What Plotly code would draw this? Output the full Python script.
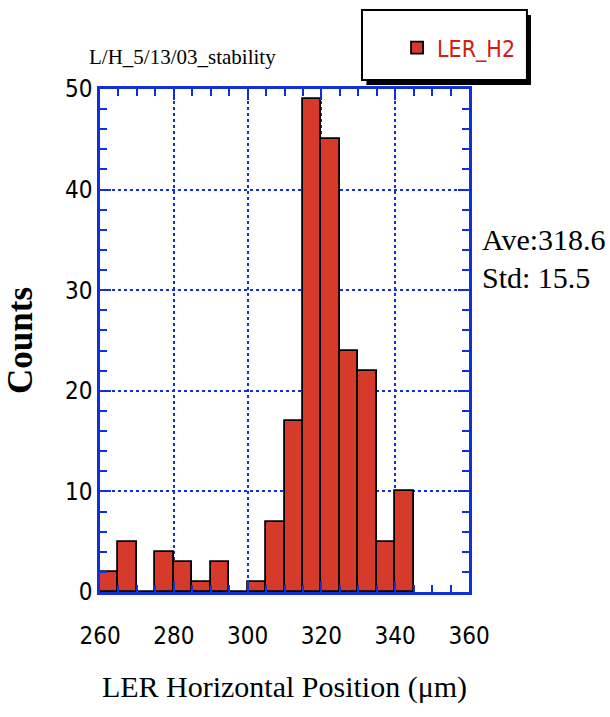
import plotly.graph_objects as go

bin_left = [260, 265, 270, 275, 280, 285, 290, 295, 300, 305, 310, 315, 320, 325, 330, 335, 340]
counts = [2, 5, 0, 4, 3, 1, 3, 0, 1, 7, 17, 49, 45, 24, 22, 5, 10]
bin_width = 5
series_name = "LER_H2"

centers = [b + bin_width / 2 for b in bin_left]

BLUE = "#1030E0"
RED = "#D63A2A"
NARROW = "DejaVu Sans Condensed, Liberation Sans Narrow, Arial Narrow, sans-serif"
SERIF = "Liberation Serif, Times New Roman, serif"

fig = go.Figure()
fig.add_trace(go.Bar(
    x=centers, y=counts, width=[bin_width] * len(centers),
    name=series_name,
    marker=dict(color=RED, line=dict(color="black", width=1.8)),
    showlegend=True,
))

axis_common = dict(
    showline=True, linecolor=BLUE, linewidth=2.5, mirror="allticks",
    ticks="inside", tickcolor=BLUE, tickwidth=2, ticklen=11,
    showgrid=True, gridcolor=BLUE, gridwidth=1.5, griddash="dot",
    zeroline=False,
    tickfont=dict(family=NARROW, size=24, color="black"),
)

fig.update_xaxes(
    range=[260, 360], dtick=20,
    minor=dict(dtick=5, ticks="inside", ticklen=7, tickcolor=BLUE, tickwidth=2, showgrid=False),
    ticklabelstandoff=20,
    title=dict(text="LER Horizontal Position (μm)", font=dict(family=SERIF, size=30, color="black"), standoff=28),
    **axis_common,
)
fig.update_yaxes(
    range=[0, 50], dtick=10,
    minor=dict(dtick=2, ticks="inside", ticklen=7, tickcolor=BLUE, tickwidth=2, showgrid=False),
    title=dict(text="<b>Counts</b>", font=dict(family=SERIF, size=35, color="black"), standoff=22),
    **axis_common,
)

# legend box with drop shadow
fig.add_shape(type="rect", xref="paper", yref="paper",
              x0=0.722, x1=1.168, y0=1.008, y1=1.147,
              fillcolor="black", line=dict(width=0), layer="below")
fig.add_shape(type="rect", xref="paper", yref="paper",
              x0=0.710, x1=1.157, y0=1.018, y1=1.157,
              fillcolor="white", line=dict(color="black", width=2), layer="below")

fig.update_layout(
    width=610, height=717,
    margin=dict(l=100, r=141, t=89, b=125),
    paper_bgcolor="white", plot_bgcolor="white",
    bargap=0,
    legend=dict(x=0.805, y=1.125, xanchor="left", yanchor="top",
                bgcolor="rgba(0,0,0,0)", borderwidth=0,
                font=dict(family=NARROW, size=23, color="#D02010")),
    annotations=[
        dict(text="L/H_5/13/03_stability", xref="paper", yref="paper",
             x=-0.035, y=1.064, xanchor="left", yanchor="middle", showarrow=False,
             font=dict(family=SERIF, size=21, color="black")),
        dict(text="Ave:318.6", xref="paper", yref="paper",
             x=1.03, y=0.70, xanchor="left", yanchor="middle", showarrow=False,
             font=dict(family=SERIF, size=30, color="black")),
        dict(text="Std: 15.5", xref="paper", yref="paper",
             x=1.03, y=0.626, xanchor="left", yanchor="middle", showarrow=False,
             font=dict(family=SERIF, size=30, color="black")),
    ],
)

fig.write_html("out.html")
